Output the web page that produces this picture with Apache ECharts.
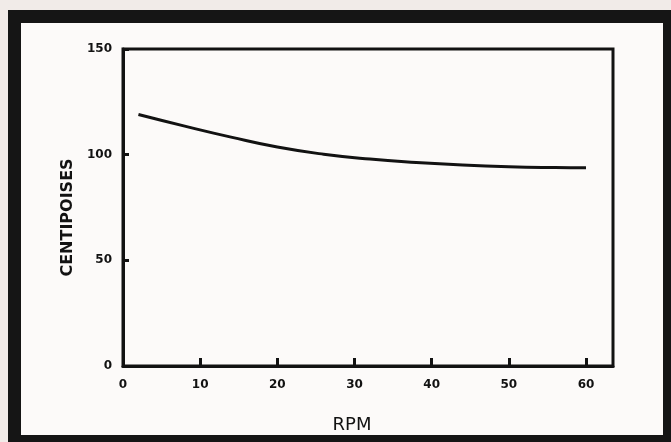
<!DOCTYPE html>
<html>
<head>
<meta charset="utf-8">
<script src="https://cdn.jsdelivr.net/npm/echarts@6/dist/echarts.min.js"></script>
<style>
	html, body {
		margin: 0;
		padding: 0;
		width: 671px;
		height: 442px;
		background: #f1ebe8;
		overflow: hidden;
	}
	/* scanned page frame */
	#frame {
		position: absolute;
		left: 8px;
		top: 10px;
		width: 642px;
		height: 412px;
		border: 13px solid #151515;
		background: #fcfaf9;
	}
	#chart {
		position: absolute;
		left: 0;
		top: 0;
		width: 671px;
		height: 442px;
	}
</style>
</head>
<body>
<div id="frame"></div>
<div id="chart"></div>
<script>
	// 读图得到的数据
	var rpm = [2, 8, 14, 20, 26, 32, 38, 44, 50, 56, 60];
	var centipoises = [119, 113.5, 108.3, 103.6, 100.2, 97.9, 96.3, 95.1, 94.3, 93.9, 93.8];
	var xTicks = [0, 10, 20, 30, 40, 50, 60];
	var yTicks = [0, 50, 100, 150];

	var ink = '#121212';
	var chart = echarts.init(document.getElementById('chart'), null, {renderer: 'canvas'});

	var option = {
		backgroundColor: 'transparent',
		animation: false,
		grid: {
			left: 123,
			top: 49,
			right: 58,
			bottom: 76,
			show: true,
			borderColor: ink,
			borderWidth: 3,
			backgroundColor: 'transparent'
		},
		xAxis: {
			type: 'value',
			min: 0,
			max: 63.5,
			interval: 10,
			name: 'RPM',
			nameLocation: 'middle',
			nameGap: 50,
			nameTextStyle: {
				color: ink,
				fontFamily: 'DejaVu Sans',
				fontSize: 18,
				padding: [0, 32, 0, 0]
			},
			axisLine: {lineStyle: {color: ink, width: 3}},
			axisTick: {inside: true, length: 8, lineStyle: {color: ink, width: 3}},
			splitLine: {show: false},
			axisLabel: {
				showMaxLabel: false,
				margin: 13,
				color: ink,
				fontFamily: 'DejaVu Sans',
				fontWeight: 'bold',
				fontSize: 12,
				formatter: function (v) {
					return xTicks.indexOf(v) >= 0 ? String(v) : '';
				}
			}
		},
		yAxis: {
			type: 'value',
			min: 0,
			max: 150,
			interval: 50,
			name: 'CENTIPOISES',
			nameLocation: 'middle',
			nameRotate: 90,
			nameGap: 33,
			nameTextStyle: {
				color: ink,
				fontFamily: 'DejaVu Sans',
				fontWeight: 'bold',
				fontSize: 16,
				padding: [0, 20, 0, 0]
			},
			axisLine: {lineStyle: {color: ink, width: 3}},
			axisTick: {inside: true, length: 6, lineStyle: {color: ink, width: 3}},
			splitLine: {show: false},
			axisLabel: {
				margin: 11,
				color: ink,
				fontFamily: 'DejaVu Sans',
				fontWeight: 'bold',
				fontSize: 12,
				formatter: function (v) {
					return yTicks.indexOf(v) >= 0 ? String(v) : '';
				}
			}
		},
		series: [{
			type: 'line',
			data: rpm.map(function (x, i) { return [x, centipoises[i]]; }),
			smooth: 0.5,
			symbol: 'none',
			lineStyle: {color: ink, width: 3}
		}]
	};
	chart.setOption(option);
</script>
</body>
</html>
